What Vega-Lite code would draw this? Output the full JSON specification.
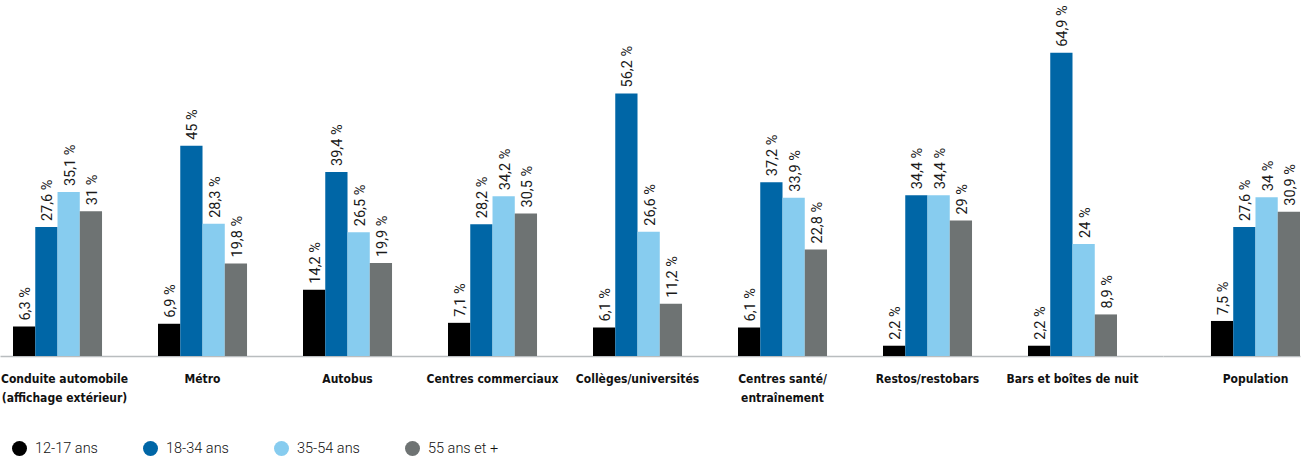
{
  "$schema": "https://vega.github.io/schema/vega-lite/v6.json",
  "padding": {"top": 5, "left": 0, "right": 8, "bottom": 0},
  "background": "white",
  "spacing": 0,
  "config": {"view": {"stroke": null}, "concat": {"spacing": 0}},
  "data": {"values": [
    {"c": "Conduite automobile (affichage extérieur)", "s": "12-17 ans", "v": 6.3, "label": "6,3 %"},
    {"c": "Conduite automobile (affichage extérieur)", "s": "18-34 ans", "v": 27.6, "label": "27,6 %"},
    {"c": "Conduite automobile (affichage extérieur)", "s": "35-54 ans", "v": 35.1, "label": "35,1 %"},
    {"c": "Conduite automobile (affichage extérieur)", "s": "55 ans et +", "v": 31, "label": "31 %"},
    {"c": "Métro", "s": "12-17 ans", "v": 6.9, "label": "6,9 %"},
    {"c": "Métro", "s": "18-34 ans", "v": 45, "label": "45 %"},
    {"c": "Métro", "s": "35-54 ans", "v": 28.3, "label": "28,3 %"},
    {"c": "Métro", "s": "55 ans et +", "v": 19.8, "label": "19,8 %"},
    {"c": "Autobus", "s": "12-17 ans", "v": 14.2, "label": "14,2 %"},
    {"c": "Autobus", "s": "18-34 ans", "v": 39.4, "label": "39,4 %"},
    {"c": "Autobus", "s": "35-54 ans", "v": 26.5, "label": "26,5 %"},
    {"c": "Autobus", "s": "55 ans et +", "v": 19.9, "label": "19,9 %"},
    {"c": "Centres commerciaux", "s": "12-17 ans", "v": 7.1, "label": "7,1 %"},
    {"c": "Centres commerciaux", "s": "18-34 ans", "v": 28.2, "label": "28,2 %"},
    {"c": "Centres commerciaux", "s": "35-54 ans", "v": 34.2, "label": "34,2 %"},
    {"c": "Centres commerciaux", "s": "55 ans et +", "v": 30.5, "label": "30,5 %"},
    {"c": "Collèges/universités", "s": "12-17 ans", "v": 6.1, "label": "6,1 %"},
    {"c": "Collèges/universités", "s": "18-34 ans", "v": 56.2, "label": "56,2 %"},
    {"c": "Collèges/universités", "s": "35-54 ans", "v": 26.6, "label": "26,6 %"},
    {"c": "Collèges/universités", "s": "55 ans et +", "v": 11.2, "label": "11,2 %"},
    {"c": "Centres santé/entraînement", "s": "12-17 ans", "v": 6.1, "label": "6,1 %"},
    {"c": "Centres santé/entraînement", "s": "18-34 ans", "v": 37.2, "label": "37,2 %"},
    {"c": "Centres santé/entraînement", "s": "35-54 ans", "v": 33.9, "label": "33,9 %"},
    {"c": "Centres santé/entraînement", "s": "55 ans et +", "v": 22.8, "label": "22,8 %"},
    {"c": "Restos/restobars", "s": "12-17 ans", "v": 2.2, "label": "2,2 %"},
    {"c": "Restos/restobars", "s": "18-34 ans", "v": 34.4, "label": "34,4 %"},
    {"c": "Restos/restobars", "s": "35-54 ans", "v": 34.4, "label": "34,4 %"},
    {"c": "Restos/restobars", "s": "55 ans et +", "v": 29, "label": "29 %"},
    {"c": "Bars et boîtes de nuit", "s": "12-17 ans", "v": 2.2, "label": "2,2 %"},
    {"c": "Bars et boîtes de nuit", "s": "18-34 ans", "v": 64.9, "label": "64,9 %"},
    {"c": "Bars et boîtes de nuit", "s": "35-54 ans", "v": 24, "label": "24 %"},
    {"c": "Bars et boîtes de nuit", "s": "55 ans et +", "v": 8.9, "label": "8,9 %"},
    {"c": "Population", "s": "12-17 ans", "v": 7.5, "label": "7,5 %"},
    {"c": "Population", "s": "18-34 ans", "v": 27.6, "label": "27,6 %"},
    {"c": "Population", "s": "35-54 ans", "v": 34, "label": "34 %"},
    {"c": "Population", "s": "55 ans et +", "v": 30.9, "label": "30,9 %"}
  ]},
  "resolve": {"scale": {"color": "shared", "x": "independent"}, "legend": {"color": "shared"}},
  "hconcat": [
    {
      "width": 1163,
      "height": 327,
      "transform": [{"filter": "datum.c != 'Population'"}],
      "encoding": {
        "x": {"field": "c", "type": "nominal", "sort": null,
          "scale": {"paddingInner": 0.386, "paddingOuter": 0.2034, "align": 0.2205},
          "axis": {"title": null, "labelAngle": 0, "ticks": false, "domainColor": "#b9bdbf", "domainWidth": 1.5,
            "labelFont": "DejaVu Sans Condensed", "labelFontSize": 12, "labelFontWeight": "bold", "labelColor": "#111111",
            "labelPadding": 17, "labelLineHeight": 19, "labelLimit": 300,
            "labelOffset": {"condition": {"test": "datum.value == 'Conduite automobile (affichage extérieur)'", "value": 7}, "value": 0},
            "labelExpr": "datum.value == 'Conduite automobile (affichage extérieur)' ? ['Conduite automobile', '(affichage extérieur)'] : datum.value == 'Centres santé/entraînement' ? ['Centres santé/', 'entraînement'] : datum.value"}},
        "xOffset": {"field": "s", "type": "nominal", "sort": ["12-17 ans", "18-34 ans", "35-54 ans", "55 ans et +"], "scale": {"paddingInner": 0, "paddingOuter": 0}},
        "y": {"field": "v", "type": "quantitative", "scale": {"domain": [0, 70]}, "axis": null}
      },
      "layer": [
        {"mark": {"type": "bar"},
         "encoding": {"color": {"field": "s", "type": "nominal", "sort": ["12-17 ans", "18-34 ans", "35-54 ans", "55 ans et +"],
           "scale": {"domain": ["12-17 ans", "18-34 ans", "35-54 ans", "55 ans et +"], "range": ["#000000", "#0066a6", "#87ccef", "#6e7373"]},
           "legend": {"orient": "none", "legendX": 12, "legendY": 412, "direction": "horizontal", "title": null, "symbolType": "circle", "symbolSize": 225, "symbolStrokeWidth": 0, "symbolOpacity": 1,
             "labelFont": "Roboto", "labelFontSize": 14.5, "labelFontWeight": 300, "labelColor": "#111111", "columnPadding": 37, "gridAlign": "all", "labelOffset": 8}}}},
        {"mark": {"type": "text", "angle": 270, "align": "left", "baseline": "middle", "dx": 6, "dy": 2, "font": "Roboto", "fontSize": 14.5, "color": "#1a1a1a"},
         "encoding": {"text": {"field": "label"}}}
      ]
    },
    {
      "width": 137,
      "height": 327,
      "transform": [{"filter": "datum.c == 'Population'"}],
      "encoding": {
        "x": {"field": "c", "type": "nominal", "sort": null,
          "scale": {"paddingInner": 0.386, "paddingOuter": 0.1654, "align": 1},
          "axis": {"title": null, "labelAngle": 0, "ticks": false, "domainColor": "#b9bdbf", "domainWidth": 1.5,
            "labelFont": "DejaVu Sans Condensed", "labelFontSize": 12, "labelFontWeight": "bold", "labelColor": "#111111",
            "labelPadding": 17, "labelLineHeight": 19, "labelLimit": 300}},
        "xOffset": {"field": "s", "type": "nominal", "sort": ["12-17 ans", "18-34 ans", "35-54 ans", "55 ans et +"], "scale": {"paddingInner": 0, "paddingOuter": 0}},
        "y": {"field": "v", "type": "quantitative", "scale": {"domain": [0, 70]}, "axis": null}
      },
      "layer": [
        {"mark": {"type": "bar"},
         "encoding": {"color": {"field": "s", "type": "nominal", "sort": ["12-17 ans", "18-34 ans", "35-54 ans", "55 ans et +"],
           "scale": {"domain": ["12-17 ans", "18-34 ans", "35-54 ans", "55 ans et +"], "range": ["#000000", "#0066a6", "#87ccef", "#6e7373"]}}}},
        {"mark": {"type": "text", "angle": 270, "align": "left", "baseline": "middle", "dx": 6, "dy": 2, "font": "Roboto", "fontSize": 14.5, "color": "#1a1a1a"},
         "encoding": {"text": {"field": "label"}}}
      ]
    }
  ]
}
